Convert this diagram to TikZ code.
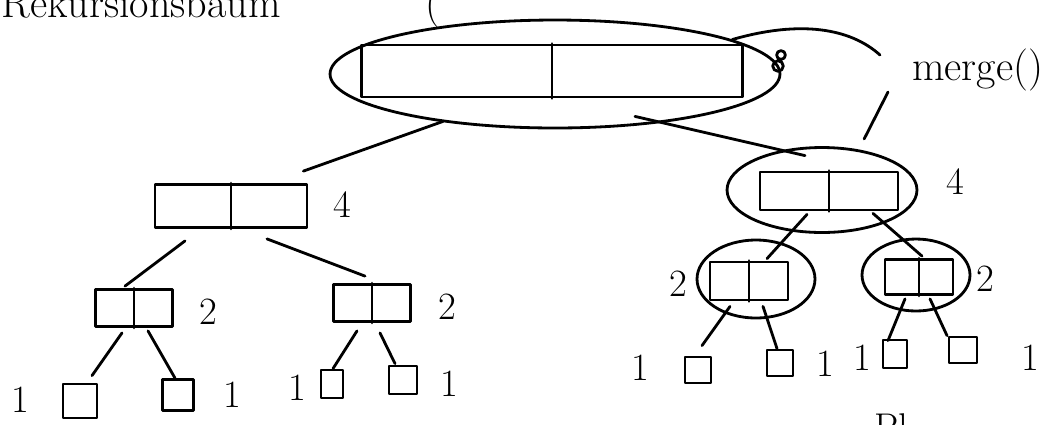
\documentclass[tikz,border=0pt]{standalone}
\usetikzlibrary{shapes.geometric}

\begin{document}
\begin{tikzpicture}[
        x=0.02cm, y=-0.02cm,
        arr/.style={draw, rectangle, inner sep=0pt},
        cell/.style={draw, rectangle, inner sep=0pt, minimum size=0.56cm},
        hull/.style={draw, ellipse, inner sep=0pt},
        num/.style={font=\fontsize{22}{26}\selectfont},
        line width=1.6pt, line cap=round, line join=round
      ]
        \useasboundingbox (0,0) rectangle (1060,424);
        \clip (0,0) rectangle (1060,424);
        % Title (cut at the top) and footnote (cut at the bottom)
        \node[font=\fontsize{24}{28}\selectfont, anchor=base west, inner sep=0pt]
          (title) at (0,17) {Rekursionsbaum\hspace{2.9cm}(};
        \node[font=\fontsize{22}{26}\selectfont, anchor=north west, inner sep=0pt]
          (foot) at (873,412) {Pl};
        % Arrays
        \node[arr, minimum width=7.62cm, minimum height=1.04cm] (root) at (552,71) {};
        \node[arr, minimum width=3.04cm, minimum height=0.86cm] (L)  at (231,206) {};
        \node[arr, minimum width=1.54cm, minimum height=0.74cm] (LL) at (134,308) {};
        \node[arr, minimum width=1.54cm, minimum height=0.74cm] (LR) at (372,303) {};
        \node[arr, minimum width=2.76cm, minimum height=0.76cm] (R)  at (829,191) {};
        \node[arr, minimum width=1.56cm, minimum height=0.76cm] (RL) at (749,281) {};
        \node[arr, minimum width=1.36cm, minimum height=0.70cm] (RR) at (919,277) {};
        \foreach \n in {root,L,LL,LR,R,RL,RR}
          \draw (\n.north) -- (\n.south);
        % Single cells
        \node[cell, minimum size=0.68cm] (LLa) at (80,401) {};
        \node[cell, minimum size=0.62cm] (LLb) at (178,395) {};
        \node[cell, minimum width=0.44cm] (LRa) at (332,384) {};
        \node[cell] (LRb) at (403,380) {};
        \node[cell, minimum size=0.52cm] (RLa) at (698,370) {};
        \node[cell, minimum size=0.52cm] (RLb) at (780,363) {};
        \node[cell, minimum width=0.48cm] (RRa) at (895,354) {};
        \node[cell, minimum height=0.52cm] (RRb) at (963,350) {};
        % Merge hulls
        \node[hull, minimum width=9.0cm, minimum height=2.16cm] (rootH) at (555,74) {};
        \node[hull, minimum width=3.8cm, minimum height=1.7cm] (RH) at (822,190) {};
        \node[hull, minimum width=2.36cm, minimum height=1.56cm] (RLH) at (756,279) {};
        \node[hull, minimum width=2.16cm, minimum height=1.44cm] (RRH) at (916,275) {};
        % Sizes
        \foreach \p/\t in {{(342,205)}/4, {(208,312)}/2, {(447,307)}/2,
                           {(955,182)}/4, {(678,284)}/2, {(985,279)}/2,
                           {(20,400)}/1, {(232,395)}/1, {(297,388)}/1, {(449,384)}/1,
                           {(640,368)}/1, {(825,364)}/1, {(862,358)}/1, {(1030,358)}/1}
          \node[num] at \p {\t};
        % Tree edges
        \draw ([shift={(-109,23)}]root.south) -- ([shift={(-5,-12)}]L.north east);
        \draw ([shift={(83,18)}]root.south) -- ([shift={(-24,-15)}]R.north);
        \draw ([shift={(-46,12)}]L.south) -- ([shift={(-9,-2)}]LL.north);
        \draw ([shift={(36,10)}]L.south) -- ([shift={(-7,-7)}]LR.north);
        \draw ([shift={(-12,5)}]LL.south) -- ([shift={(12,-7)}]LLa.north);
        \draw ([shift={(14,3)}]LL.south) -- ([shift={(-3,0)}]LLb.north);
        \draw ([shift={(-15,8)}]LR.south) -- ([shift={(1,0)}]LRa.north);
        \draw ([shift={(8,10)}]LR.south) -- ([shift={(-8,-1)}]LRb.north);
        \draw ([shift={(-22,3)}]R.south) -- ([shift={(18,-2)}]RL.north);
        \draw ([shift={(44,2)}]R.south) -- ([shift={(3,-2)}]RR.north);
        \draw ([shift={(-19,5)}]RL.south) -- ([shift={(4,-10)}]RLa.north);
        \draw ([shift={(14,5)}]RL.south) -- ([shift={(-3,0)}]RLb.north);
        \draw ([shift={(-14,3)}]RR.south) -- ([shift={(-7,2)}]RRa.north);
        \draw ([shift={(11,3)}]RR.south) -- ([shift={(-16,0)}]RRb.north);
        % merge() note
        \node[font=\fontsize{24}{28}\selectfont, anchor=west] (merge) at (905,70) {merge()};
        \draw (rootH.11) .. controls (800,20) and (850,28) .. ([shift={(-25,-15)}]merge.west);
        \draw ([shift={(-17,22)}]merge.west) -- ([shift={(-26,-20)}]RH.north east);
        \draw (781,55) circle[radius=2.5pt] (778,66) circle[radius=3pt];
      \end{tikzpicture}
\end{document}
